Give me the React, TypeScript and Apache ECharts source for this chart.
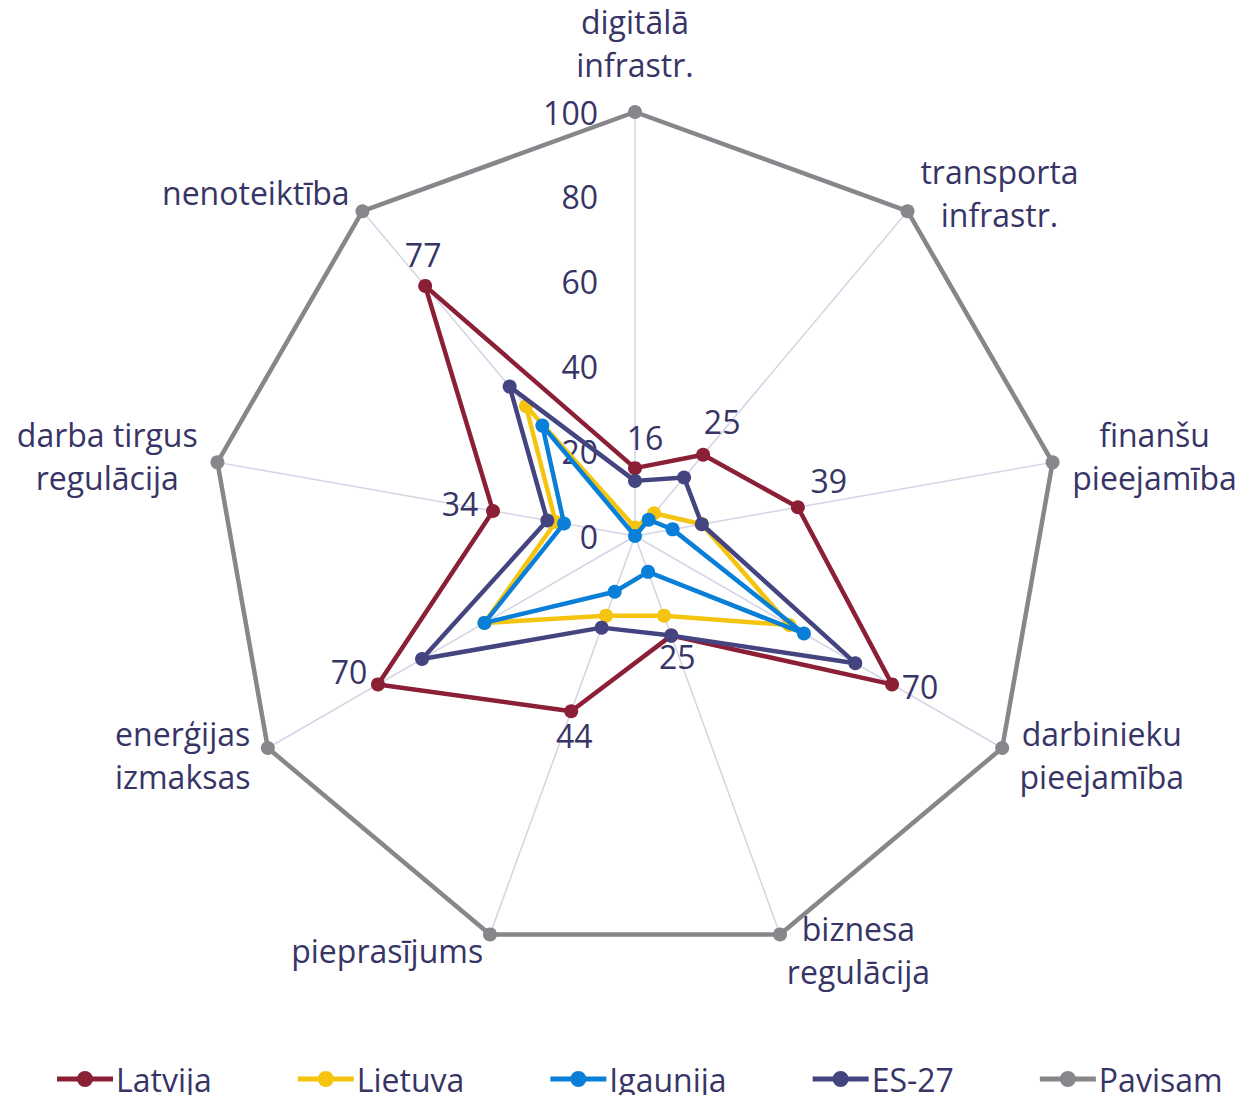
import React, { useEffect, useRef } from "react";
import * as echarts from "echarts";

// clockwise from the top
const indicatorNames = [
  "digitālā\ninfrastr.",
  "transporta\ninfrastr.",
  "finanšu\npieejamība",
  "darbinieku\npieejamība",
  "biznesa\nregulācija",
  "pieprasījums",
  "enerģijas\nizmaksas",
  "darba tirgus\nregulācija",
  "nenoteiktība",
];

const seriesNames = ["Latvija", "Lietuva", "Igaunija", "ES-27", "Pavisam"];
const latvija = [16, 25, 39, 70, 25, 44, 70, 34, 77];
const lietuva = [2, 7, 16, 42, 20, 20, 41, 19, 40];
const igaunija = [0, 5, 9, 46, 9, 14, 41, 17, 34];
const es27 = [13, 18, 16, 60, 25, 23, 58, 21, 46];
const pavisam = [100, 100, 100, 100, 100, 100, 100, 100, 100];

const seriesColors = ["#8a1f36", "#f5c40f", "#0a7fd8", "#434480", "#86868b"];
// label offsets (dx, dy) for Latvija value labels, per indicator (clockwise order)
const labelOffsets = [
  [10, -31],
  [19, -33],
  [31, -27],
  [28, 2],
  [6, 21],
  [3, 24],
  [-29, -13],
  [-33, -7],
  [-2, -31],
];

const TEXT = "#363565";
const FONT = "'Open Sans', sans-serif";
const legendIcon =
  "path://M0,5.5H21V10.5H0Z M35,5.5H56V10.5H35Z M20,8A8,8 0 1 1 36,8A8,8 0 1 1 20,8Z";

// ECharts radar runs counter-clockwise; map to clockwise order
const n = indicatorNames.length;
const order = indicatorNames.map((_, k) => (k === 0 ? 0 : n - k));
const reorder = (arr: any[]) => order.map((j) => arr[j]);

export default function App() {
  const ref = useRef<HTMLDivElement>(null);
  useEffect(() => {
    const chart = echarts.init(ref.current!, null, { renderer: "svg" });
    const allValues = [latvija, lietuva, igaunija, es27, pavisam];
    const series: any[] = seriesNames.map((name, i) => ({
      type: "radar",
      name,
      z: 2 + i,
      symbol: "circle",
      symbolSize: 14,
      lineStyle: { color: seriesColors[i], width: 4.5 },
      itemStyle: { color: seriesColors[i] },
      data: [{ name, value: reorder(allValues[i]) }],
    }));
    series.push({
      type: "radar",
      name: "__labels",
      z: 20,
      silent: true,
      symbol: "circle",
      symbolSize: 1,
      lineStyle: { opacity: 0, width: 0 },
      itemStyle: { color: "rgba(0,0,0,0)" },
      data: labelOffsets.map((off, i) => ({
        name: "lbl" + i,
        value: reorder(latvija),
        label: {
          show: true,
          position: "inside",
          offset: off,
          color: TEXT,
          fontSize: 32,
          fontFamily: FONT,
          formatter: (p: any) =>
            order[p.dimensionIndex] === i ? String(p.value) : "",
        },
      })),
    });
    chart.setOption({
      animation: false,
      backgroundColor: "#ffffff",
      legend: {
        data: seriesNames,
        left: 57,
        top: 1063,
        padding: 0,
        itemGap: 86,
        itemWidth: 56,
        itemHeight: 16,
        icon: legendIcon,
        textStyle: { color: TEXT, fontSize: 32, fontFamily: FONT, padding: [0, 0, 0, -2] },
      },
      radar: {
        center: [635, 536],
        radius: 424,
        startAngle: 90,
        shape: "polygon",
        splitNumber: 5,
        nameGap: 20,
        axisName: {
          color: TEXT,
          fontSize: 32,
          fontFamily: FONT,
          lineHeight: 43,
          padding: [0, 0, 6, 0],
          formatter: (v: string) =>
            v
              .split("\n")
              .map((s) => "{c|" + s + "}")
              .join("\n"),
          rich: {
            c: { align: "center", color: TEXT, fontSize: 32, fontFamily: FONT, lineHeight: 43 },
          },
        },
        indicator: reorder(indicatorNames).map((nm: string, k: number) => ({
          name: nm,
          min: 0,
          max: 100,
          ...(k === 0
            ? {
                axisLabel: {
                  show: true,
                  margin: 37,
                  color: TEXT,
                  fontSize: 32,
                  fontFamily: FONT,
                },
              }
            : {}),
        })),
        axisLine: { lineStyle: { color: "#d4d4e6", width: 1.5 } },
        axisTick: { show: false },
        axisLabel: { show: false },
        splitLine: { show: false },
        splitArea: { show: false },
      },
      series,
    });
    return () => chart.dispose();
  }, []);
  return (
    <div
      ref={ref}
      style={{ position: "fixed", left: 0, top: 0, width: 1260, height: 1095, background: "#fff" }}
    />
  );
}
